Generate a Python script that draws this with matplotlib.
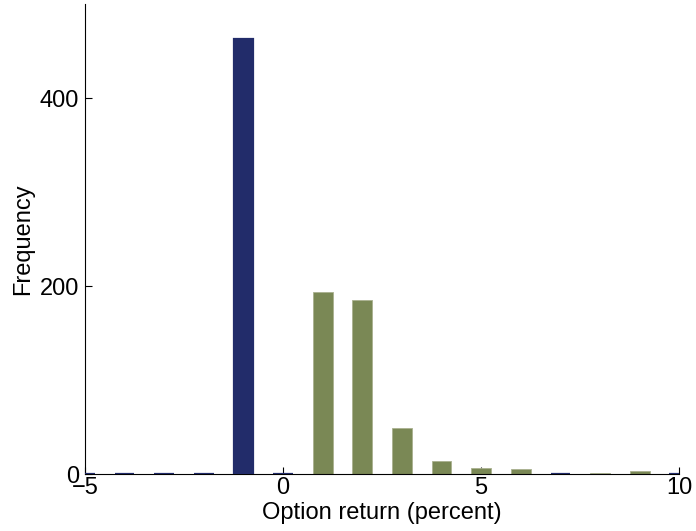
import matplotlib
matplotlib.use('Agg')
import matplotlib.pyplot as plt
import numpy as np

plt.rcParams['font.family'] = ['Liberation Sans', 'DejaVu Sans']

# bins at integer returns
neg_x = [-5, -4, -3, -2, -1, 0, 7, 10]
neg_y = [0, 0, 0, 0, 463, 0, 0, 0]
pos_x = [1, 2, 3, 4, 5, 6, 8, 9]
pos_y = [194, 185, 49, 14, 7, 5, 1, 3]

fig = plt.figure(figsize=(6.96, 5.31), dpi=100)
ax = fig.add_axes([0.122, 0.107, 0.854, 0.885])

ax.bar(neg_x, neg_y, width=0.5, color='#222c6a', edgecolor='#222c6a',
       linewidth=1.6, zorder=3)
ax.bar(pos_x, pos_y, width=0.5, color='#7a8855', edgecolor='#a9b08f',
       linewidth=0.6, zorder=2)

ax.set_xlim(-5, 10)
ax.set_ylim(0, 500)
ax.set_xticks([-5, 0, 5, 10])
ax.set_yticks([0, 200, 400])
ax.spines['top'].set_visible(False)
ax.spines['right'].set_visible(False)
ax.tick_params(direction='in', length=5, labelsize=17)
ax.tick_params(axis='y', pad=4)
ax.tick_params(axis='x', pad=2)
ax.set_xlabel('Option return (percent)', fontsize=17, labelpad=2)
ax.set_ylabel('Frequency', fontsize=17, labelpad=4)

fig.savefig('out.png', dpi=100)
